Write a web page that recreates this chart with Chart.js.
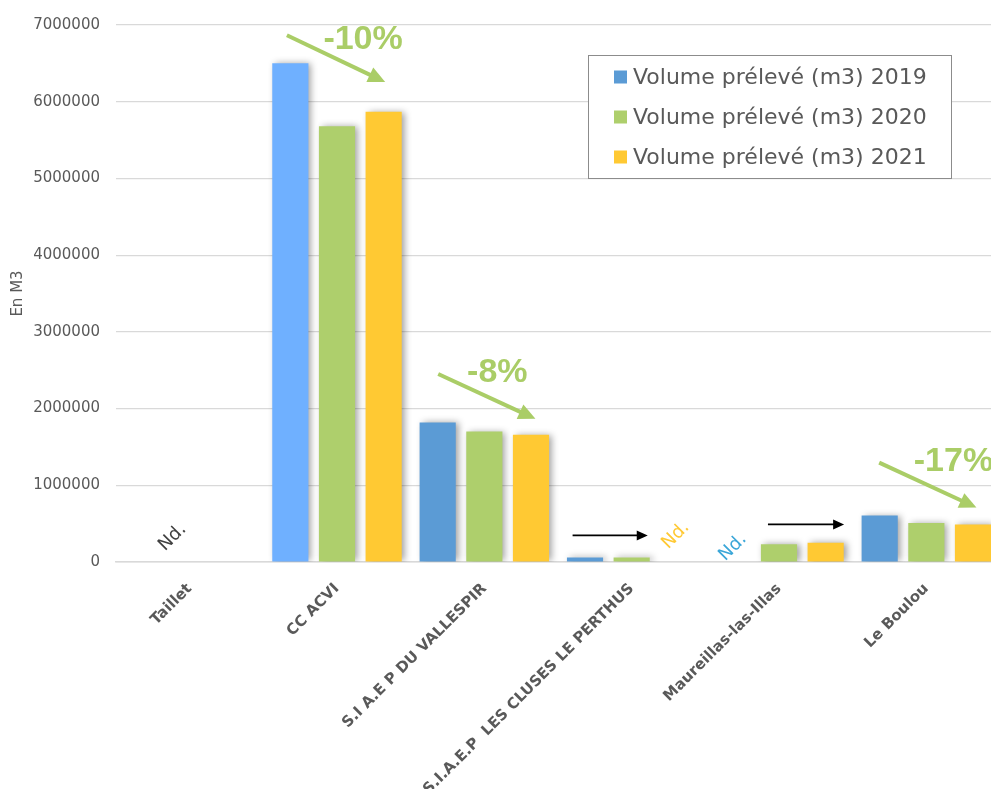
<!DOCTYPE html>
<html>
<head>
<meta charset="utf-8">
<script src="https://cdn.jsdelivr.net/npm/chart.js@4.4.1/dist/chart.umd.min.js"></script>
<style>
  html, body { margin: 0; padding: 0; background: #ffffff; overflow: hidden; }
  #wrap { position: relative; width: 1000px; height: 789px; }
</style>
</head>
<body>
<div id="wrap"><canvas id="c"></canvas></div>
<script>
// ---- data ----
const categories = ['Taillet', 'CC ACVI', 'S.I A.E P DU VALLESPIR', 'S.I.A.E.P  LES CLUSES LE PERTHUS', 'Maureillas-las-Illas', 'Le Boulou'];
const seriesLabels = ['Volume prélevé (m3) 2019', 'Volume prélevé (m3) 2020', 'Volume prélevé (m3) 2021'];
const vol2019 = [null, 6500000, 1820000, 60000, null, 605000];
const vol2020 = [null, 5680000, 1700000, 60000, 230000, 510000];
const vol2021 = [null, 5870000, 1660000, null, 250000, 490000];
const yTicks = [0, 1000000, 2000000, 3000000, 4000000, 5000000, 6000000, 7000000];
const trendTexts = ['-10%', '-8%', '-17%'];
const ndLabel = 'Nd.';

// ---- annotation anchors (category index, value) ----
const greenArrows = [
  { from: [0.66, 6866000], to: [1.327, 6256000] },
  { from: [1.687, 2451000], to: [2.347, 1866000] },
  { from: [4.680, 1295000], to: [5.340, 710000] }
];
const greenTexts = [
  { at: [1.177, 6814000], text: trendTexts[0] },
  { at: [2.088, 2464000], text: trendTexts[1] },
  { at: [5.184, 1308000], text: trendTexts[2] }
];
const blackArrows = [
  { from: [2.599, 347000], to: [3.109, 347000] },
  { from: [3.925, 490000], to: [4.442, 490000] }
];
const ndMarks = [
  { at: [-0.116, 321000], color: '#404040' },
  { at: [3.299, 347000], color: '#ffc933' },
  { at: [3.687, 191000], color: '#3aa6d8' }
];

const C2019 = '#5b9bd5', C2019b = '#6fb0ff', C2020 = '#aecf6c', C2021 = '#ffc933';
const legendColors = [C2019, C2020, C2021];

function px(chart, p) {
  const xs = chart.scales.x, ys = chart.scales.y;
  const w = (xs.right - xs.left) / categories.length;
  return [xs.getPixelForValue(0) + p[0] * w, ys.getPixelForValue(p[1])];
}
function arrow(ctx, a, b, lw, hl, hw, color) {
  const ang = Math.atan2(b[1] - a[1], b[0] - a[0]);
  const bx = b[0] - Math.cos(ang) * hl, by = b[1] - Math.sin(ang) * hl;
  ctx.strokeStyle = color; ctx.fillStyle = color; ctx.lineWidth = lw; ctx.lineCap = 'butt';
  ctx.beginPath(); ctx.moveTo(a[0], a[1]); ctx.lineTo(bx + Math.cos(ang) * 2, by + Math.sin(ang) * 2); ctx.stroke();
  ctx.beginPath();
  ctx.moveTo(b[0], b[1]);
  ctx.lineTo(bx + Math.sin(ang) * hw / 2, by - Math.cos(ang) * hw / 2);
  ctx.lineTo(bx - Math.sin(ang) * hw / 2, by + Math.cos(ang) * hw / 2);
  ctx.closePath(); ctx.fill();
}

const shadowPlugin = {
  id: 'barShadow',
  beforeDatasetsDraw(chart) {
    const ctx = chart.ctx;
    ctx.save();
    ctx.shadowColor = 'rgba(0,0,0,0.38)';
    ctx.shadowBlur = 7;
    ctx.shadowOffsetX = 3;
    ctx.shadowOffsetY = 0;
  },
  afterDatasetsDraw(chart) { chart.ctx.restore(); }
};

const annotPlugin = {
  id: 'annot',
  afterDraw(chart) {
    const ctx = chart.ctx;
    ctx.save();
    greenArrows.forEach(g => arrow(ctx, px(chart, g.from), px(chart, g.to), 4, 17, 16, '#aacd67'));
    blackArrows.forEach(g => arrow(ctx, px(chart, g.from), px(chart, g.to), 1.6, 11, 10, '#000000'));
    ctx.fillStyle = '#aacd67';
    ctx.font = 'bold 34px "Liberation Sans", Arial, sans-serif';
    ctx.textAlign = 'center'; ctx.textBaseline = 'middle';
    greenTexts.forEach(t => { const p = px(chart, t.at); ctx.fillText(t.text, p[0], p[1]); });
    ctx.font = '18px "DejaVu Sans", sans-serif';
    ndMarks.forEach(n => {
      const p = px(chart, n.at);
      ctx.save(); ctx.translate(p[0], p[1]); ctx.rotate(-Math.PI / 4);
      ctx.fillStyle = n.color; ctx.fillText(ndLabel, 0, 0); ctx.restore();
    });
    // legend
    const L = { x: 588, y: 55, w: 363, h: 123 };
    ctx.fillStyle = '#ffffff';
    ctx.fillRect(L.x, L.y, L.w, L.h);
    ctx.strokeStyle = '#8c8c8c'; ctx.lineWidth = 1;
    ctx.strokeRect(L.x + 0.5, L.y + 0.5, L.w, L.h);
    ctx.font = '22px "DejaVu Sans", sans-serif';
    ctx.textAlign = 'left'; ctx.textBaseline = 'middle';
    seriesLabels.forEach((s, i) => {
      const cy = L.y + 22 + i * 40;
      ctx.fillStyle = legendColors[i];
      ctx.fillRect(L.x + 26, cy - 6.5, 13, 13);
      ctx.fillStyle = '#595959';
      ctx.fillText(s, L.x + 45, cy + 1);
    });
    ctx.restore();
  }
};

new Chart(document.getElementById('c'), {
  type: 'bar',
  data: {
    labels: categories,
    datasets: [
      { label: seriesLabels[0], data: vol2019, backgroundColor: categories.map((c, i) => i === 1 ? C2019b : C2019) },
      { label: seriesLabels[1], data: vol2020, backgroundColor: C2020 },
      { label: seriesLabels[2], data: vol2021, backgroundColor: C2021 }
    ]
  },
  options: {
    responsive: true,
    maintainAspectRatio: false,
    animation: false,
    layout: { padding: { top: 22, left: 0, right: 0, bottom: 0 } },
    datasets: { bar: { categoryPercentage: 0.95, barPercentage: 0.775 } },
    plugins: { legend: { display: false }, tooltip: { enabled: false } },
    scales: {
      x: {
        grid: { display: false },
        border: { color: '#d9d9d9', width: 1.5 },
        ticks: {
          autoSkip: false, minRotation: 45, maxRotation: 45, padding: 10,
          color: '#595959',
          font: { family: '"DejaVu Sans", sans-serif', size: 15, weight: 'bold' }
        },
        afterFit(scale) { scale.height = 227; }
      },
      y: {
        min: 0, max: 7000000,
        afterBuildTicks(scale) { scale.ticks = yTicks.map(v => ({ value: v })); },
        grid: { color: '#d9d9d9', lineWidth: 1.2, drawTicks: false },
        border: { display: false },
        ticks: {
          padding: 16, color: '#595959',
          font: { family: '"DejaVu Sans", sans-serif', size: 15 },
          callback: v => String(v)
        },
        title: {
          display: true, text: 'En M3', color: '#595959',
          font: { family: '"DejaVu Sans", sans-serif', size: 15 },
          padding: { top: 9, bottom: 0 }
        },
        afterFit(scale) { scale.width = 116; }
      }
    }
  },
  plugins: [shadowPlugin, annotPlugin]
});
</script>
</body>
</html>
